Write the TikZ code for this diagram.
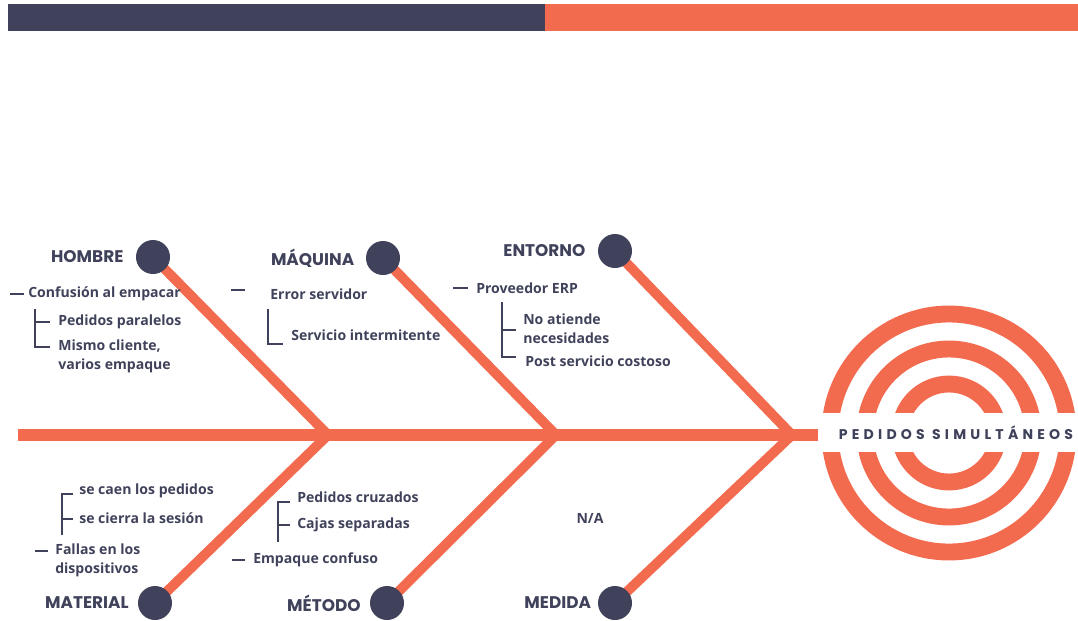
\documentclass[tikz,border=0pt]{standalone}
\usepackage{fontspec}
\setmainfont{Open Sans}
\newfontfamily\headfont{Poppins}
\newfontfamily\titlefont[LetterSpace=30]{Poppins}
\usetikzlibrary{positioning, calc, backgrounds}
\definecolor{navy}{HTML}{3F425A}
\definecolor{coral}{HTML}{F36B4F}

\begin{document}
\begin{tikzpicture}[
        x=0.025cm, y=-0.025cm,
        head/.style={circle, fill=navy, minimum size=0.85cm, inner sep=0pt},
        cat/.style={font=\headfont\bfseries\fontsize{12}{14}\selectfont, text=navy, inner sep=0pt},
        item/.style={font=\bfseries\fontsize{10}{13.5}\selectfont, text=navy, anchor=west, align=left, inner sep=0pt},
        bone/.style={draw=coral, line width=7pt},
        spine/.style={draw=coral, line width=8.5pt},
        ring/.style={draw=coral, line width=12pt},
        brk/.style={draw=navy, line width=1.6pt},
        dashmark/.style={draw=navy, line width=2pt}
    ]
        \useasboundingbox (0,0) rectangle (1078,620);
        % Top bar
        \fill[navy] (8,4) rectangle (545,31);
        \fill[coral] (545,4) rectangle (1078,31);

        % Heads of the bones
        \node[head] (hombre) at (153,257) {};
        \node[head] (maquina) at (383,258) {};
        \node[head] (entorno) at (615,251) {};
        \node[head] (material) at (155,603) {};
        \node[head] (metodo) at (387,603) {};
        \node[head] (medida) at (615,603) {};
        \node[cat, left=0.3cm of hombre] {HOMBRE};
        \node[cat, left=0.28cm of maquina] {MÁQUINA};
        \node[cat, left=0.3cm of entorno] {ENTORNO};
        \node[cat, left=0.22cm of material] {MATERIAL};
        \node[cat, left=0.22cm of metodo] {MÉTODO};
        \node[cat, left=0.16cm of medida] {MEDIDA};

        % Effect
        \coordinate (tail) at (18,435);
        \coordinate (j1) at (328,435);
        \coordinate (j2) at (556,435);
        \coordinate (j3) at (792,435);
        \coordinate (target) at (949,433);
        \coordinate (bandin) at (818,435);
        \fill[white] (818,413) rectangle (1078,452);
        \node[font=\titlefont\bfseries\fontsize{10}{12}\selectfont, text=navy] (effect) at (956,433) {PEDIDOS SIMULTÁNEOS};

        \begin{scope}[on background layer]
            \draw[ring] (target) circle[radius=119];
            \draw[ring] (target) circle[radius=84];
            \draw[ring] (target) circle[radius=49];
            \draw[spine] (tail) -- (bandin);
            \draw[bone] (hombre.center) -- (j1);
            \draw[bone] (material.center) -- (j1);
            \draw[bone] (maquina.center) -- (j2);
            \draw[bone] (metodo.center) -- (j2);
            \draw[bone] (entorno.center) -- (j3);
            \draw[bone] (medida.center) -- (j3);
        \end{scope}

        % Hombre
        \node[item] (conf) at (28,294) {Confusión al empacar};
        \node[item] (parl) at (58,322) {Pedidos paralelos};
        \node[item] (mismo) at (58,356) {Mismo cliente,\\varios empaque};
        \draw[dashmark] (10,294) -- (24,294);
        \draw[brk] (35,309) |- (50,347);
        \draw[brk] (35,322) -- (50,322);

        % Maquina
        \node[item] (err) at (270,294) {Error servidor};
        \node[item] (serv) at (291,335) {Servicio intermitente};
        \draw[dashmark] (231,290) -- (245,290);
        \draw[brk] (268,309) |- (283,344);

        % Entorno
        \node[item] (prov) at (476,288) {Proveedor ERP};
        \node[item] (noat) at (523,329) {No atiende\\necesidades};
        \node[item] (post) at (525,361) {Post servicio costoso};
        \draw[dashmark] (453,288) -- (468,288);
        \draw[brk] (502,302) |- (516,357);
        \draw[brk] (502,330) -- (516,330);

        % Material
        \node[item] (caen) at (79,491) {se caen los pedidos};
        \node[item] (cierra) at (79,518) {se cierra la sesión};
        \node[item] (fallas) at (55,560) {Fallas en los\\dispositivos};
        \draw[brk] (73,494) -| (62,535);
        \draw[brk] (62,519) -- (73,519);
        \draw[dashmark] (35,551) -- (48,551);

        % Metodo
        \node[item] (cruz) at (297,497) {Pedidos cruzados};
        \node[item] (cajas) at (297,525) {Cajas separadas};
        \node[item] (empq) at (253,560) {Empaque confuso};
        \draw[brk] (290,502) -| (278,542);
        \draw[brk] (278,525) -- (290,525);
        \draw[dashmark] (232,560) -- (245,560);

        % Medida
        \node[item, anchor=center] (na) at (590,518) {N/A};
    \end{tikzpicture}
\end{document}
